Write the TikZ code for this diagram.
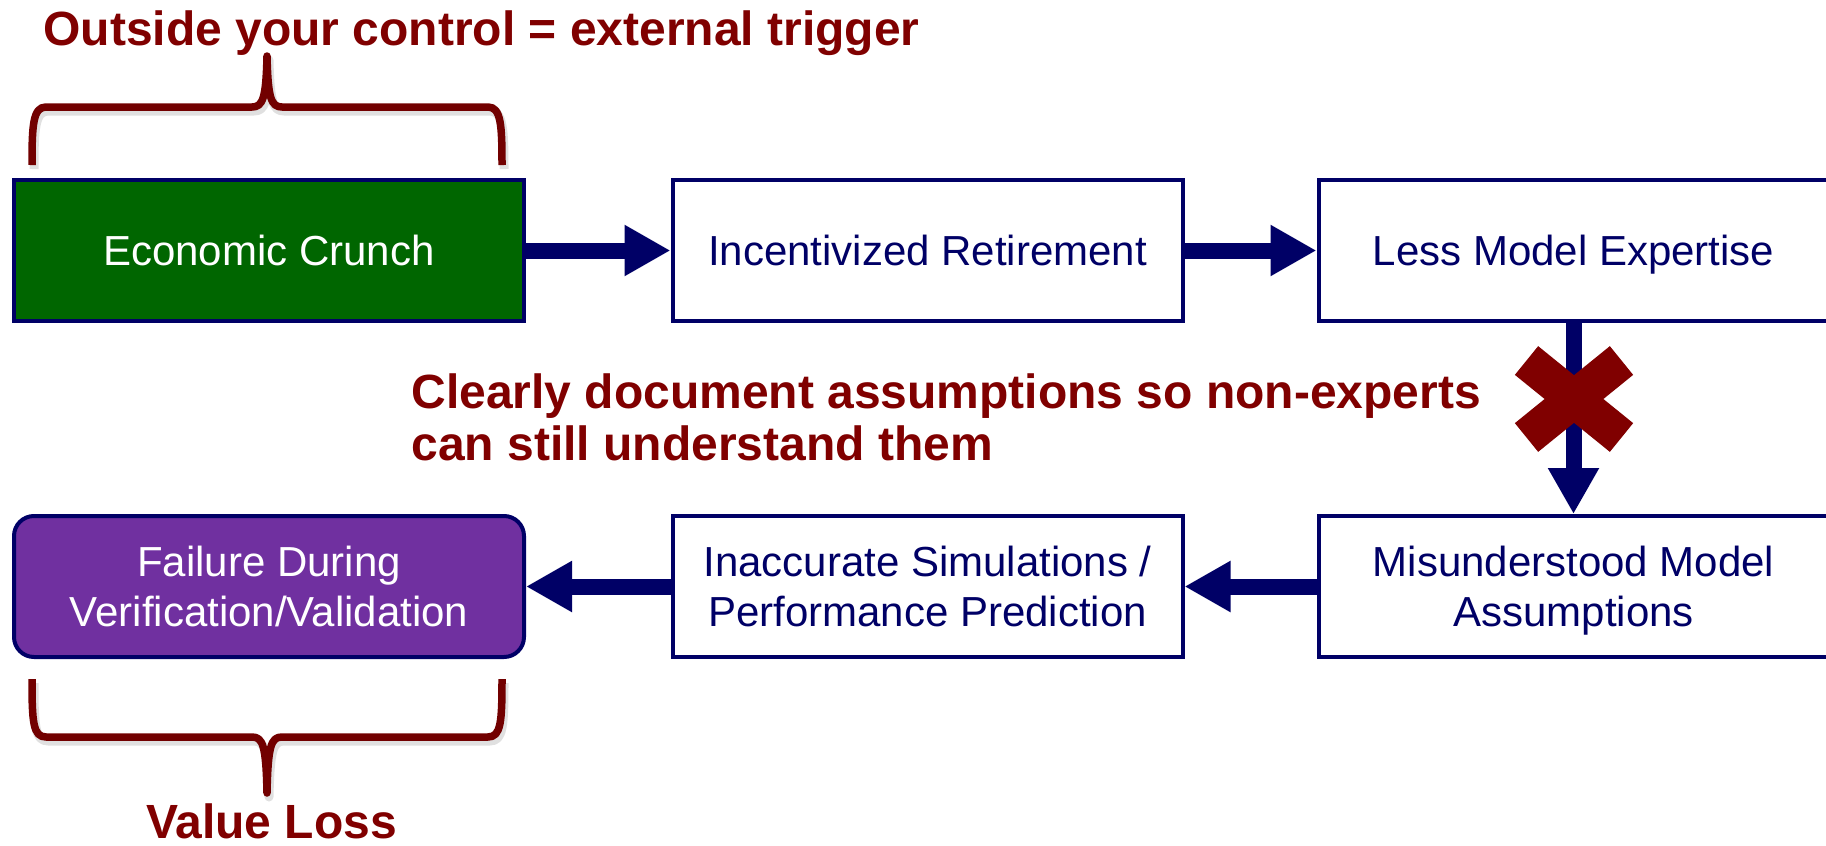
\documentclass[tikz,border=0pt]{standalone}
\usepackage{fontspec}
\setmainfont{Liberation Sans}
\usetikzlibrary{arrows.meta}
\definecolor{navy}{RGB}{0,0,102}
\definecolor{leaf}{RGB}{0,102,0}
\definecolor{plum}{RGB}{112,48,160}
\definecolor{maroon}{RGB}{128,0,0}
\definecolor{bracered}{RGB}{114,0,0}
\tikzset{
  stage/.style={draw=navy, line width=2pt, minimum width=255pt, minimum height=70.5pt,
    inner sep=0pt, align=center, text depth=0pt, font=\fontsize{21}{25}\selectfont, text=navy},
  pipe/.style={draw=navy, line width=8pt, -{Triangle[length=23pt,width=24pt]}},
  callout/.style={text=maroon, font=\fontsize{24}{26}\selectfont\bfseries, inner sep=0pt},
  brace/.style={draw=bracered, line width=3.75pt, line join=round},
  braceshade/.style={draw=black, opacity=0.12, line width=4.5pt, line join=round},
  veto/.style={draw=maroon, line width=18.5pt}
}
% brace outlines (1 unit = 0.5pt, y grows downwards)
\newcommand\upperbrace{(32,165) .. controls (32,125) and (33,107) .. (46,107) -- (252,107)
  .. controls (263,107) and (266,98) .. (267,56) .. controls (268,98) and (271,107) .. (282,107)
  -- (488,107) .. controls (501,107) and (502,125) .. (502,165)}
\newcommand\lowerbrace{(32,679) .. controls (32,722) and (33,737) .. (46,737) -- (252,737)
  .. controls (263,737) and (266,746) .. (267,793) .. controls (268,746) and (271,737) .. (282,737)
  -- (488,737) .. controls (501,737) and (502,722) .. (502,679)}
\begin{document}
\begin{tikzpicture}[x=0.5pt, y=-0.5pt]
\useasboundingbox (0,0) rectangle (1826,846);

% process stages
\node[stage, fill=leaf, text=white] (crunch) at (269,250.5) {Economic Crunch};
\node[stage] (retire) at (927.5,250.5) {Incentivized Retirement};
\node[stage] (expertise) at (1573.5,250.5) {Less Model Expertise};
\node[stage, fill=plum, text=white, rounded corners=10pt] (failure) at (269,586.5) {Failure During\\Verification/Validation};
\node[stage] (inaccurate) at (927.5,586.5) {Inaccurate Simulations /\\Performance Prediction};
\node[stage] (misread) at (1573.5,586.5) {Misunderstood Model\\Assumptions};

% causal chain
\draw[pipe] (crunch.east) -- (retire.west);
\draw[pipe] (retire.east) -- (expertise.west);
\draw[pipe] (expertise.south) -- (misread.north);
\draw[pipe] (misread.west) -- (inaccurate.east);
\draw[pipe] (inaccurate.west) -- (failure.east);

% the chain is broken here
\draw[veto] (1526.5,360.5) -- (1621.5,437.5) (1621.5,360.5) -- (1526.5,437.5);

% annotations
\node[callout, anchor=base west] (trigger) at (43,45) {Outside your control = external trigger};
\node[callout, anchor=west, align=left] (advice) at (411,417.5)
  {Clearly document assumptions so non-experts\\can still understand them};
\node[callout, anchor=base] (loss) at (271.5,838) {Value Loss};

% braces with a soft drop shadow
\draw[braceshade, shift={(2,4)}] \upperbrace;
\draw[braceshade, shift={(2,4)}] \lowerbrace;
\draw[brace] \upperbrace;
\draw[brace] \lowerbrace;
\end{tikzpicture}
\end{document}
